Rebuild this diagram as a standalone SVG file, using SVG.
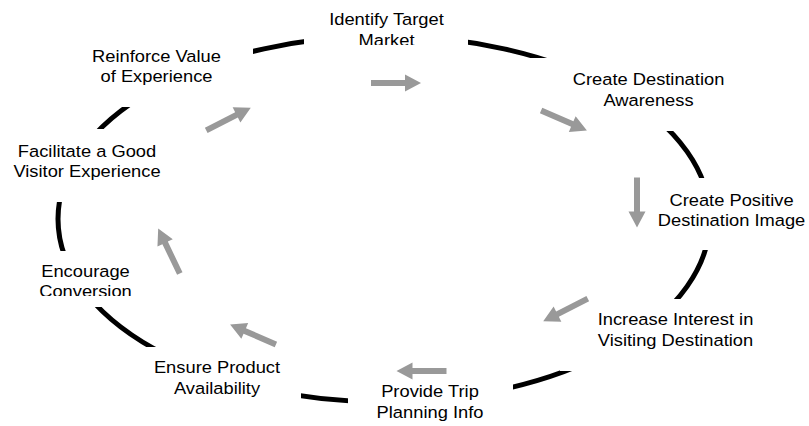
<svg xmlns="http://www.w3.org/2000/svg" xmlns:xlink="http://www.w3.org/1999/xlink" width="809" height="426" viewBox="0 0 809 426">
  <style>
    .lbl { font-family: "Liberation Sans", Arial, sans-serif; font-size: 16.5px; fill: #000; text-anchor: middle; }
    .ring { fill: none; stroke: #000; stroke-width: 5; }
    .arrow { fill: #999999; stroke: none; }
  </style>
  <defs>
    <!-- block arrow centred on the origin, pointing along +x -->
    <path id="arr" d="M-25,-3 L9,-3 L9,-8.5 L25,0 L9,8.5 L9,3 L-25,3 Z"/>
    <!-- openings in the ring where the labels sit -->
    <mask id="ringGaps" maskUnits="userSpaceOnUse" x="0" y="0" width="809" height="426">
      <rect x="0" y="0" width="809" height="426" fill="#fff"/>
      <rect x="304" y="0" width="164" height="60" fill="#000"/>
      <rect x="530" y="58" width="200" height="73" fill="#000"/>
      <rect x="670" y="178" width="60" height="72" fill="#000"/>
      <rect x="560" y="299" width="170" height="72" fill="#000"/>
      <rect x="348" y="360" width="165" height="66" fill="#000"/>
      <rect x="140" y="347" width="161" height="79" fill="#000"/>
      <rect x="30" y="251" width="100" height="56" fill="#000"/>
      <rect x="30" y="129" width="100" height="73" fill="#000"/>
      <rect x="100" y="0" width="153" height="107" fill="#000"/>
    </mask>
    <clipPath id="clipTop" clipPathUnits="userSpaceOnUse">
      <rect x="-120" y="0" width="240" height="45"/>
    </clipPath>
    <clipPath id="clipLeft" clipPathUnits="userSpaceOnUse">
      <rect x="-120" y="250" width="240" height="46"/>
    </clipPath>
  </defs>

  <rect width="809" height="426" fill="#fff"/>

  <!-- cycle ring -->
  <g id="ring">
    <ellipse class="ring" cx="384" cy="219" rx="326" ry="183" mask="url(#ringGaps)"/>
  </g>

  <!-- connectors -->
  <g id="connectors" class="arrow">
    <use xlink:href="#arr" transform="translate(396,83)"/>
    <use xlink:href="#arr" transform="translate(564,120.5) rotate(23.6)"/>
    <use xlink:href="#arr" transform="translate(637,202.5) rotate(90)"/>
    <use xlink:href="#arr" transform="translate(565.5,310) rotate(153)"/>
    <use xlink:href="#arr" transform="translate(421.5,371) rotate(180)"/>
    <use xlink:href="#arr" transform="translate(253,334.5) rotate(203.6)"/>
    <use xlink:href="#arr" transform="translate(169,251) rotate(244.4)"/>
    <use xlink:href="#arr" transform="translate(228.5,119) rotate(-27)"/>
  </g>

  <!-- stages -->
  <g id="identify-target-market" transform="translate(386.5,0) scale(1.11,1)">
    <g clip-path="url(#clipTop)">
      <text class="lbl" x="0" y="25">Identify Target</text>
      <text class="lbl" x="0" y="46">Market</text>
    </g>
  </g>
  <g id="create-destination-awareness" transform="translate(648.5,0) scale(1.11,1)">
    <text class="lbl" x="0" y="85">Create Destination</text>
    <text class="lbl" x="0" y="106">Awareness</text>
  </g>
  <g id="create-positive-destination-image" transform="translate(731.5,0) scale(1.11,1)">
    <text class="lbl" x="0" y="206">Create Positive</text>
    <text class="lbl" x="0" y="226">Destination Image</text>
  </g>
  <g id="increase-interest" transform="translate(675.5,0) scale(1.11,1)">
    <text class="lbl" x="0" y="325">Increase Interest in</text>
    <text class="lbl" x="0" y="346">Visiting Destination</text>
  </g>
  <g id="provide-trip-planning-info" transform="translate(430,0) scale(1.11,1)">
    <text class="lbl" x="0" y="397">Provide Trip</text>
    <text class="lbl" x="0" y="418">Planning Info</text>
  </g>
  <g id="ensure-product-availability" transform="translate(217,0) scale(1.11,1)">
    <text class="lbl" x="0" y="373">Ensure Product</text>
    <text class="lbl" x="0" y="394">Availability</text>
  </g>
  <g id="encourage-conversion" transform="translate(85.5,0) scale(1.11,1)">
    <g clip-path="url(#clipLeft)">
      <text class="lbl" x="0" y="277">Encourage</text>
      <text class="lbl" x="0" y="297">Conversion</text>
    </g>
  </g>
  <g id="facilitate-visitor-experience" transform="translate(87,0) scale(1.11,1)">
    <text class="lbl" x="0" y="157">Facilitate a Good</text>
    <text class="lbl" x="0" y="177">Visitor Experience</text>
  </g>
  <g id="reinforce-value" transform="translate(156.5,0) scale(1.11,1)">
    <text class="lbl" x="0" y="62">Reinforce Value</text>
    <text class="lbl" x="0" y="82">of Experience</text>
  </g>
</svg>
